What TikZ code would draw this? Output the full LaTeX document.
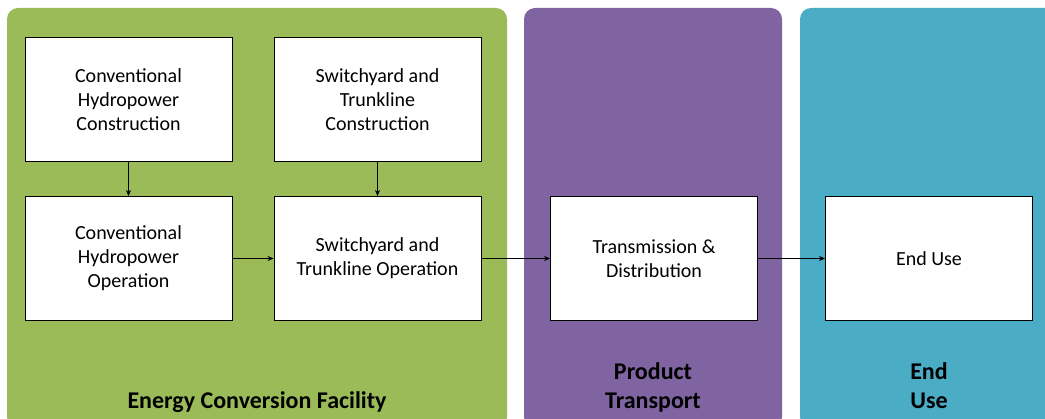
\documentclass[tikz,border=0pt]{standalone}
\usepackage{fontspec}
\setmainfont{Carlito}
\usetikzlibrary{arrows.meta}
\definecolor{panelgreen}{HTML}{9BBB59}
\definecolor{panelpurple}{HTML}{8064A2}
\definecolor{panelteal}{HTML}{4BACC6}
\tikzset{
  panel/.style={rounded corners=11pt, draw=none},
  stagebox/.style={draw=black, line width=0.9pt, fill=white, minimum width=207pt, minimum height=124pt,
    align=center, font=\fontsize{20}{24}\selectfont, inner sep=2pt},
  flow/.style={-{Stealth[length=6pt,width=5pt]}, line width=0.8pt},
  paneltitle/.style={font=\fontsize{24}{29}\selectfont\bfseries, align=center, inner sep=0pt}
}
\begin{document}
\begin{tikzpicture}[x=1pt, y=-1pt]
\useasboundingbox (0,0) rectangle (1045,419);
\begin{scope}
\clip (0,0) rectangle (1045,419);
\fill[panel, panelgreen] (7,8) rectangle (507,428);
\fill[panel, panelpurple] (524,8) rectangle (782,428);
\fill[panel, panelteal] (800,8) rectangle (1070,428);
\end{scope}

\node[stagebox] (hc) at (128.5,99.5) {Conventional\\Hydropower\\Construction};
\node[stagebox] (sc) at (377.5,99.5) {Switchyard and\\Trunkline\\Construction};
\node[stagebox] (ho) at (128.5,258.5) {Conventional\\Hydropower\\Operation};
\node[stagebox] (so) at (377.5,258.5) {Switchyard and\\Trunkline Operation};
\node[stagebox] (td) at (654,258.5) {Transmission \&\\Distribution};
\node[stagebox] (eu) at (929,258.5) {End Use};

\draw[flow] (hc) -- (ho);
\draw[flow] (sc) -- (so);
\draw[flow] (ho) -- (so);
\draw[flow] (so) -- (td);
\draw[flow] (td) -- (eu);

\node[paneltitle] (t1) at (257,403) {\strut Energy Conversion Facility};
\node[paneltitle] (t2) at (653,388) {\strut Product\\\strut Transport};
\node[paneltitle] (t3) at (929,388) {\strut End\\\strut Use};
\end{tikzpicture}
\end{document}
